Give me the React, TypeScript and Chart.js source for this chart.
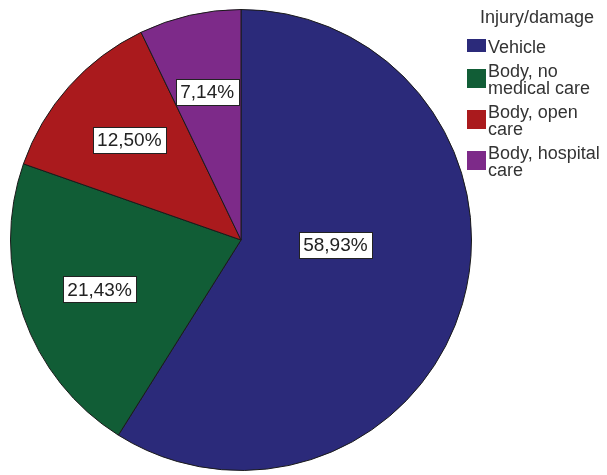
import React, { useEffect, useRef } from "react";
import { Chart, registerables } from "chart.js";

Chart.register(...registerables);

const legendTitle = "Injury/damage";
const categories: string[][] = [
  ["Vehicle"],
  ["Body, no", "medical care"],
  ["Body, open", "care"],
  ["Body, hospital", "care"],
];
const percentages = [58.93, 21.43, 12.5, 7.14];
const colors = ["#2b2a7a", "#115d36", "#aa1a1d", "#7d2a89"];
// label placement: fraction of radius, angle shift in degrees
const labelRadius = [0.41, 0.65, 0.65, 0.66];
const labelAngleShift = [-13, 0, 0, 0];

const FONT = '"Liberation Sans", Arial, sans-serif';

const labelPlugin = {
  id: "sliceLabels",
  afterDatasetsDraw(chart: any) {
    const ctx = chart.ctx;
    const meta = chart.getDatasetMeta(0);
    ctx.save();
    ctx.font = `19px ${FONT}`;
    ctx.textAlign = "center";
    ctx.textBaseline = "middle";
    meta.data.forEach((arc: any, i: number) => {
      const p = arc.getProps(["x", "y", "startAngle", "endAngle", "outerRadius"], true);
      const mid = (p.startAngle + p.endAngle) / 2 + (labelAngleShift[i] * Math.PI) / 180;
      const r = p.outerRadius * labelRadius[i];
      const x = p.x + Math.cos(mid) * r;
      const y = p.y + Math.sin(mid) * r;
      const text = percentages[i].toFixed(2).replace(".", ",") + "%";
      const w = ctx.measureText(text).width + 9;
      const h = 26;
      ctx.fillStyle = "#ffffff";
      ctx.fillRect(Math.round(x - w / 2) + 0.5, Math.round(y - h / 2) + 0.5, Math.round(w), h);
      ctx.strokeStyle = "#222";
      ctx.lineWidth = 1;
      ctx.strokeRect(Math.round(x - w / 2) + 0.5, Math.round(y - h / 2) + 0.5, Math.round(w), h);
      ctx.fillStyle = "#222";
      ctx.fillText(text, x, y + 1);
    });
    ctx.restore();
  },
};

const legendPlugin = {
  id: "customLegend",
  afterDraw(chart: any) {
    const ctx = chart.ctx;
    ctx.save();
    ctx.font = `18px ${FONT}`;
    ctx.textBaseline = "middle";
    ctx.textAlign = "left";
    ctx.fillStyle = "#333";
    const ca = chart.chartArea;
    const left = ca.right - 5;
    ctx.fillText(legendTitle, left + 13, 18);
    const lineH = 17;
    const gap = 7;
    let y = 48;
    const labels = chart.data.labels as string[][];
    labels.forEach((lines, i) => {
      const blockCenter = y + ((lines.length - 1) * lineH) / 2;
      const bh = lines.length > 1 ? 19 : 13;
      ctx.fillStyle = colors[i];
      ctx.fillRect(left, Math.round(blockCenter - 2.5 - bh / 2), 19, bh);
      ctx.fillStyle = "#333";
      lines.forEach((ln, k) => {
        ctx.fillText(ln, left + 21, y + k * lineH);
      });
      y += lines.length * lineH + gap;
    });
    ctx.restore();
  },
};

export default function App() {
  const ref = useRef<HTMLCanvasElement | null>(null);
  useEffect(() => {
    if (!ref.current) return;
    const chart = new Chart(ref.current, {
      type: "pie",
      data: {
        labels: categories as any,
        datasets: [
          {
            data: percentages,
            backgroundColor: colors,
            borderColor: "#1a1a1a",
            borderWidth: 1,
          },
        ],
      },
      options: {
        responsive: false,
        animation: false,
        events: [],
        layout: { padding: { left: 10, top: 9, right: 135, bottom: 4 } },
        plugins: {
          legend: { display: false },
          tooltip: { enabled: false },
          title: { display: false },
        },
      },
      plugins: [labelPlugin, legendPlugin],
    });
    return () => chart.destroy();
  }, []);
  return (
    <div style={{ position: "absolute", left: 0, top: 0, width: 607, height: 475, background: "#fff" }}>
      <canvas ref={ref} width={607} height={475} style={{ width: 607, height: 475 }} />
    </div>
  );
}
